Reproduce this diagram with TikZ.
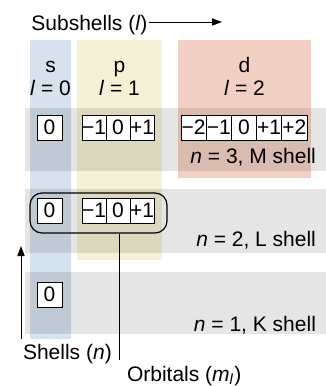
\documentclass[tikz,border=0pt]{standalone}
\usepackage{fontspec}
\usetikzlibrary{arrows.meta}
\setmainfont{Liberation Sans}
\definecolor{scol}{RGB}{214,226,238}
\definecolor{pcol}{RGB}{245,241,214}
\definecolor{dcol}{RGB}{242,209,196}
\begin{document}
\begin{tikzpicture}[x=0.5pt, y=-0.5pt, >={Stealth[length=5pt, width=3.6pt, inset=0pt]}, font=\fontsize{10.5}{12.6}\selectfont,
		orb/.style={draw, fill=white, line width=0.5pt, inner sep=0pt, minimum height=12.5pt},
		head/.style={anchor=base},
		shell/.style={anchor=base east},
		band/.style={fill=black, fill opacity=0.1}]
		\useasboundingbox (0,0) rectangle (326,386);
		\fill[scol] (30,40) rectangle (71,339);
		\fill[pcol] (77,40) rectangle (162,260);
		\fill[dcol] (178,40) rectangle (311,178);
		\fill[band] (25,108) rectangle (326,171);
		\fill[band] (25,189) rectangle (326,253);
		\fill[band] (25,272) rectangle (326,334);
		\node[anchor=base west, inner xsep=0.5pt] (sub) at (30,30) {Subshells (\textit{l})};
		\coordinate (subtip) at (222,22);
		\draw[->, line width=0.5pt] (sub.east |- subtip) -- (subtip);
		\node[head] (shead) at (50.5,72) {s};
		\node[head] (slab) at (50.5,95) {\textit{l} = 0};
		\node[head] (phead) at (119.5,72) {p};
		\node[head] (plab) at (119.5,95) {\textit{l} = 1};
		\node[head] (dhead) at (244.5,72) {d};
		\node[head] (dlab) at (244.5,95) {\textit{l} = 2};
		\node[orb, minimum width=12.5pt] (s3) at (49.5,127.5) {0};
		\foreach \v [count=\i] in {−1,0,+1}
			\node[orb, minimum width=12pt] (p3\i) at ({82+24*(\i-0.5)},127.5) {\v};
		\foreach \v [count=\i] in {−2,−1,0,+1,+2}
			\node[orb, minimum width=12.6pt] (d3\i) at ({181+25.2*(\i-0.5)},127.5) {\v};
		\node[orb, minimum width=12.5pt] (s2) at (49.5,210.5) {0};
		\foreach \v [count=\i] in {−1,0,+1}
			\node[orb, minimum width=12pt] (p2\i) at ({82+24*(\i-0.5)},210.5) {\v};
		\node[orb, minimum width=12.5pt] (s1) at (49.5,294.5) {0};
		\node[shell] (mshell) at (323,163) {\textit{n} = 3, M shell};
		\node[shell] (lshell) at (323,246) {\textit{n} = 2, L shell};
		\node[shell] (kshell) at (323,331) {\textit{n} = 1, K shell};
		\node[draw, line width=0.6pt, rounded corners=6pt, minimum width=68.5pt, minimum height=20pt, inner sep=0pt] (ring) at (98.5,213) {};
		\coordinate (orbend) at (119,360);
		\draw[line width=0.5pt] (ring.south -| orbend) -- (orbend);
		\node[anchor=base west] (orbl) at (120,381) {Orbitals (\textit{m}\textsubscript{\textit{l}})};
		\coordinate (shtail) at (21,339);
		\coordinate (shtip) at (21,246);
		\draw[->, line width=0.5pt] (shtail) -- (shtip);
		\node[anchor=base west] (shl) at (16,359) {Shells (\textit{n})};
	\end{tikzpicture}
\end{document}
